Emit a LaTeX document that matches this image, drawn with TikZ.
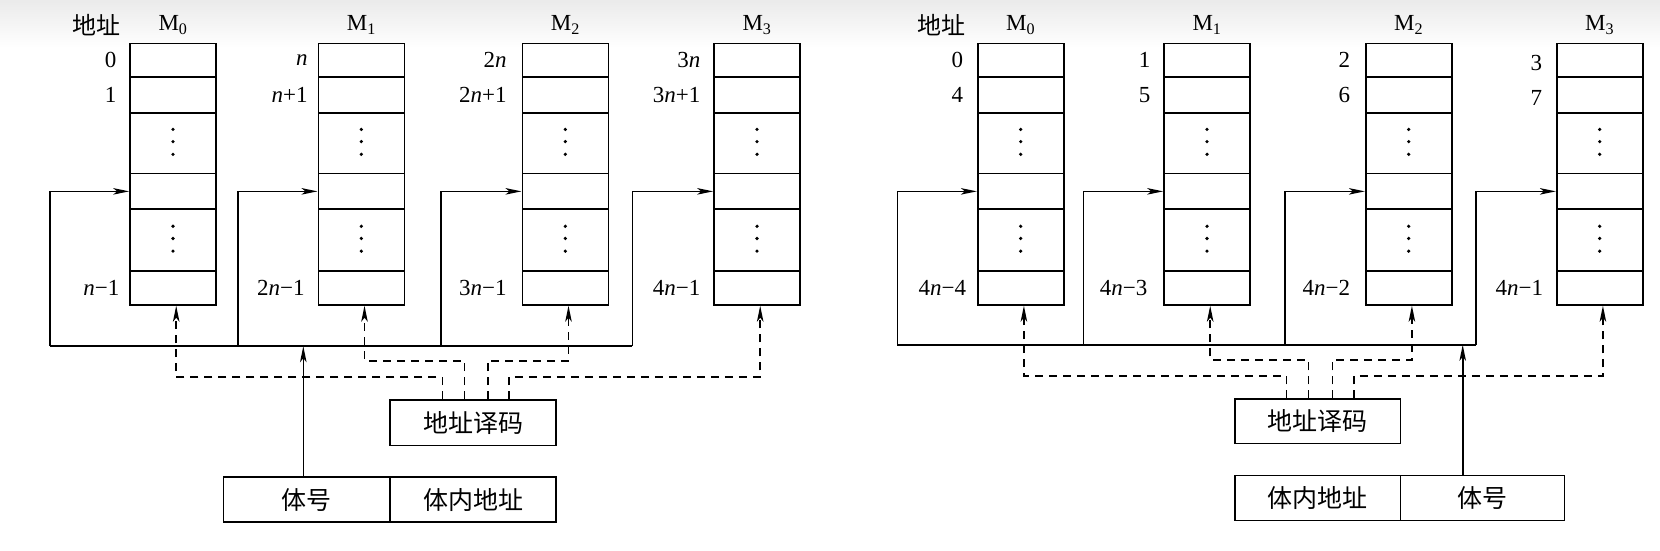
\documentclass[tikz,border=0pt]{standalone}
\usepackage{fontspec}
\setmainfont{Liberation Serif}
\newfontfamily\cjk{Noto Sans CJK SC}
\usetikzlibrary{arrows.meta,calc}
\newcommand\membank[2]{%
 \node[cell,minimum height=33.9pt] (#1a) at ({#2+43},57) {};
 \node[cell,minimum height=35.5pt] (#1b) at ({#2+43},89.75) {};
 \node[cell,minimum height=60.9pt] (#1c) at ({#2+43},135.25) {};
 \node[cell,minimum height=35.5pt] (#1d) at ({#2+43},180.75) {};
 \node[cell,minimum height=61.9pt] (#1e) at ({#2+43},226.75) {};
 \node[cell,minimum height=33.9pt] (#1f) at ({#2+43},272) {};
 \foreach \dy in {-13,-1.5,10.5}{%
   \fill ({#2+43},{135.25+\dy}) circle (1.8pt);
   \fill ({#2+43},{226.75+\dy}) circle (1.8pt);}%
 \coordinate (#1u) at ([xshift=47pt]#1f.south west);
}
\begin{document}
\begin{tikzpicture}[x=1pt,y=-1.0587pt,line width=1.6pt,
  cell/.style={draw,rectangle,inner sep=0pt,minimum width=86pt,line width=1.6pt},
  lbl/.style={inner sep=0pt,font=\fontsize{23}{26}\selectfont},
  cjkl/.style={inner sep=0pt,font=\cjk\fontsize{24}{28}\selectfont},
  boxn/.style={draw,rectangle,inner sep=0pt,line width=1.6pt,font=\cjk\fontsize{25}{29}\selectfont},
  arr/.style={-{Stealth[length=16pt,width=6.5pt,inset=4pt]}},
  dsh/.style={dash pattern=on 8pt off 6pt}]
\useasboundingbox (0,0) rectangle (1660,520.45);
\shade[top color=black!8,bottom color=white,draw=none] (0,0) rectangle (1660,45);
\coordinate (topy) at (0,23.5);
% ---------------- left panel ----------------
\membank{L0}{130}
\membank{L1}{318.3}
\membank{L2}{522.3}
\membank{L3}{714}
\node[cjkl] (Ladr) at (96.7,23.5) {地址};
\node[lbl] (Lm0) at (L0a.north |- topy) {M\textsubscript{0}};
\node[lbl] (Lm1) at (L1a.north |- topy) {M\textsubscript{1}};
\node[lbl] (Lm2) at (L2a.north |- topy) {M\textsubscript{2}};
\node[lbl] (Lm3) at (L3a.north |- topy) {M\textsubscript{3}};
\node[lbl,anchor=east] (L0la) at ([xshift=-12pt]L0a.west) {0};
\node[lbl,anchor=east] (L0lb) at ([xshift=-12pt]L0b.west) {1};
\node[lbl,anchor=east] (L0lf) at ([xshift=-9pt]L0f.west) {\textit{n}−1};
\node[lbl,anchor=east] (L1la) at ([xshift=-9pt]L1a.west) {\textit{n}};
\node[lbl,anchor=east] (L1lb) at ([xshift=-9pt]L1b.west) {\textit{n}+1};
\node[lbl,anchor=east] (L1lf) at ([xshift=-12pt]L1f.west) {2\textit{n}−1};
\node[lbl,anchor=east] (L2la) at ([xshift=-14pt]L2a.west) {2\textit{n}};
\node[lbl,anchor=east] (L2lb) at ([xshift=-14pt]L2b.west) {2\textit{n}+1};
\node[lbl,anchor=east] (L2lf) at ([xshift=-14pt]L2f.west) {3\textit{n}−1};
\node[lbl,anchor=east] (L3la) at ([xshift=-12pt]L3a.west) {3\textit{n}};
\node[lbl,anchor=east] (L3lb) at ([xshift=-12pt]L3b.west) {3\textit{n}+1};
\node[lbl,anchor=east] (L3lf) at ([xshift=-12pt]L3f.west) {4\textit{n}−1};
\node[boxn,minimum width=166pt,minimum height=45.5pt] (decL) at (473,399.2) {地址译码};
\node[boxn,minimum width=166.7pt,minimum height=45.1pt] (tihaoL) at (306.7,472) {体号};
\node[boxn,minimum width=166pt,minimum height=45.1pt] (tineiL) at (473,472) {体内地址};
\coordinate (bL0) at (50,327);
\coordinate (bL1) at (237.7,327);
\coordinate (bL2) at (440.7,327);
\coordinate (bL3) at (632.3,327);
\coordinate (upL) at (0,340.7);
\coordinate (loL) at (0,356);
\draw (bL0) -- (bL3);
\draw[arr] (bL0) |- (L0d.west);
\draw[arr] (bL1) |- (L1d.west);
\draw[arr] (bL2) |- (L2d.west);
\draw[arr] (bL3) |- (L3d.west);
\draw[arr] ([xshift=-3.4pt]tihaoL.north) -- ([xshift=-3.4pt]tihaoL.north |- bL0);
\draw[dsh,arr] ([xshift=-30.7pt]decL.north) |- (L0u |- loL) -- (L0u);
\draw[dsh,arr] ([xshift=-8.7pt]decL.north) |- (L1u |- upL) -- (L1u);
\draw[dsh,arr] ([xshift=14.7pt]decL.north) |- (L2u |- upL) -- (L2u);
\draw[dsh,arr] ([xshift=36pt]decL.north) |- (L3u |- loL) -- (L3u);
% ---------------- right panel ----------------
\membank{R0}{977.7}
\membank{R1}{1164}
\membank{R2}{1365.7}
\membank{R3}{1556.7}
\node[cjkl] (Radr) at (941.7,23.5) {地址};
\node[lbl] (Rm0) at (R0a.north |- topy) {M\textsubscript{0}};
\node[lbl] (Rm1) at (R1a.north |- topy) {M\textsubscript{1}};
\node[lbl] (Rm2) at (R2a.north |- topy) {M\textsubscript{2}};
\node[lbl] (Rm3) at (R3a.north |- topy) {M\textsubscript{3}};
\node[lbl,anchor=east] (R0la) at ([xshift=-13pt]R0a.west) {0};
\node[lbl,anchor=east] (R0lb) at ([xshift=-13pt]R0b.west) {4};
\node[lbl,anchor=east] (R0lf) at ([xshift=-10pt]R0f.west) {4\textit{n}−4};
\node[lbl,anchor=east] (R1la) at ([xshift=-12pt]R1a.west) {1};
\node[lbl,anchor=east] (R1lb) at ([xshift=-12pt]R1b.west) {5};
\node[lbl,anchor=east] (R1lf) at ([xshift=-15pt]R1f.west) {4\textit{n}−3};
\node[lbl,anchor=east] (R2la) at ([xshift=-14pt]R2a.west) {2};
\node[lbl,anchor=east] (R2lb) at ([xshift=-14pt]R2b.west) {6};
\node[lbl,anchor=east] (R2lf) at ([xshift=-14pt]R2f.west) {4\textit{n}−2};
\node[lbl,anchor=east] (R3la) at ([xshift=-13pt,yshift=-3pt]R3a.west) {3};
\node[lbl,anchor=east] (R3lb) at ([xshift=-13pt,yshift=-3pt]R3b.west) {7};
\node[lbl,anchor=east] (R3lf) at ([xshift=-12pt]R3f.west) {4\textit{n}−1};
\node[boxn,minimum width=165.3pt,minimum height=44.5pt] (decR) at (1317.65,398) {地址译码};
\node[boxn,minimum width=165.3pt,minimum height=44.9pt] (tineiR) at (1317.65,470.5) {体内地址};
\node[boxn,minimum width=164pt,minimum height=44.9pt] (tihaoR) at (1482.3,470.5) {体号};
\coordinate (bR0) at (897.3,325.7);
\coordinate (bR1) at (1083.3,325.7);
\coordinate (bR2) at (1285,325.7);
\coordinate (bR3) at (1475.7,325.7);
\coordinate (upR) at (0,340);
\coordinate (loR) at (0,355.3);
\draw (bR0) -- (bR3);
\draw[arr] (bR0) |- (R0d.west);
\draw[arr] (bR1) |- (R1d.west);
\draw[arr] (bR2) |- (R2d.west);
\draw[arr] (bR3) |- (R3d.west);
\draw[arr] ([xshift=-19.6pt]tihaoR.north) -- ([xshift=-19.6pt]tihaoR.north |- bR0);
\draw[dsh,arr] ([xshift=-31pt]decR.north) |- (R0u |- loR) -- (R0u);
\draw[dsh,arr] ([xshift=-9.3pt]decR.north) |- (R1u |- upR) -- (R1u);
\draw[dsh,arr] ([xshift=14.7pt]decR.north) |- (R2u |- upR) -- (R2u);
\draw[dsh,arr] ([xshift=36.3pt]decR.north) |- (R3u |- loR) -- (R3u);
\end{tikzpicture}
\end{document}
